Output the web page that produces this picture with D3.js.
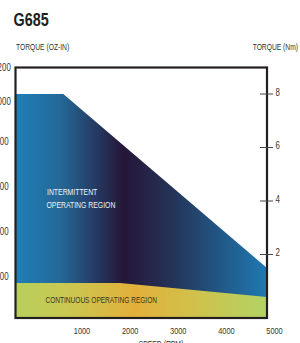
<!DOCTYPE html>
<html>
<head>
<meta charset="utf-8">
<script src="https://cdn.jsdelivr.net/npm/d3@7"></script>
<style>
  html, body { margin: 0; padding: 0; background: #ffffff; }
  svg { display: block; }
  text { font-family: "Liberation Sans", Arial, sans-serif; }
</style>
</head>
<body>
<div id="chart"></div>
<script>
// ---- data ----
const speedTicks = [1000, 2000, 3000, 4000, 5000];          // rpm
const ozTicks = [200, 400, 600, 800, 1000, 1200];          // oz-in labels (left)
const nmTicks = [2, 4, 6, 8];                               // Nm ticks (right)
const intermittentSpeed = [0, 950, 5000];                   // rpm
const intermittentTorque = [8, 8, 1.5];                     // Nm
const continuousSpeed = [0, 2080, 5000];                    // rpm
const continuousTorque = [0.93, 0.93, 0.41];                // Nm

// ---- layout ----
const W = 300, H = 343;
const box = { left: 15.5, right: 267, top: 67.5, bottom: 318 };
const NARROW = 0.8;

const svg = d3.select("#chart").append("svg").attr("width", W).attr("height", H);

// condensed text helper
function ctext(parent, x, y, str, size, opts = {}) {
  const t = parent.append("text")
    .attr("transform", `translate(${x},${y}) scale(${opts.sx || NARROW},1)`)
    .attr("font-size", size)
    .attr("fill", opts.fill || "#333")
    .attr("text-anchor", opts.anchor || "start")
    .text(str);
  if (opts.weight) t.attr("font-weight", opts.weight);
  return t;
}

// scales
const xPlot = d3.scaleLinear().domain([0, 5000]).range([box.left, box.right]);
const xLabel = d3.scaleLinear().domain([1000, 5000]).range([82, 274.5]);
const yNm = d3.scaleLinear().domain([0, 8]).range([308, 94]);
const yOz = d3.scaleLinear().domain([200, 800, 1000, 1200]).range([276, 141, 101, 67]);

// gradients
const defs = svg.append("defs");
const g1 = defs.append("linearGradient").attr("id", "gInt")
  .attr("gradientUnits", "userSpaceOnUse")
  .attr("x1", box.left).attr("x2", box.right).attr("y1", 0).attr("y2", 0);
[[0, "#1f7fb8"], [0.18, "#246898"], [0.43, "#251638"], [0.62, "#243358"], [1, "#1f7ab2"]]
  .forEach(s => g1.append("stop").attr("offset", s[0]).attr("stop-color", s[1]));
const g2 = defs.append("linearGradient").attr("id", "gCont")
  .attr("gradientUnits", "userSpaceOnUse")
  .attr("x1", box.left).attr("x2", box.right).attr("y1", 0).attr("y2", 0);
[[0, "#b8cf5c"], [0.2, "#c9c852"], [0.47, "#e2b03a"], [0.72, "#cfc24c"], [1, "#b2d364"]]
  .forEach(s => g2.append("stop").attr("offset", s[0]).attr("stop-color", s[1]));

// areas
const area = d3.area()
  .x(d => xPlot(d.s))
  .y0(box.bottom)
  .y1(d => yNm(d.t));

const intData = intermittentSpeed.map((s, i) => ({ s, t: intermittentTorque[i] }));
const contData = continuousSpeed.map((s, i) => ({ s, t: continuousTorque[i] }));

svg.append("path").datum(intData).attr("d", area).attr("fill", "url(#gInt)");
svg.append("path").datum(contData).attr("d", area).attr("fill", "url(#gCont)");

// box
svg.append("rect")
  .attr("x", box.left).attr("y", box.top)
  .attr("width", box.right - box.left).attr("height", box.bottom - box.top)
  .attr("fill", "none").attr("stroke", "#231f20").attr("stroke-width", 2.2);

// right ticks
const rt = svg.append("g");
rt.selectAll("line").data(nmTicks).join("line")
  .attr("x1", 260).attr("x2", 273)
  .attr("y1", d => yNm(d)).attr("y2", d => yNm(d))
  .attr("stroke", "#444").attr("stroke-width", 1);
nmTicks.forEach(d => ctext(rt, 275.5, yNm(d) + 1.5, d, 10.5, { sx: 0.75 }));

// left labels (centred, partly cut by the page edge as in the original)
const lg = svg.append("g");
ozTicks.forEach(d => ctext(lg, 2, yOz(d) + 3.8, d, 10, { anchor: "middle", sx: 0.79 }));

// bottom labels
const bg = svg.append("g");
speedTicks.forEach(d => ctext(bg, xLabel(d), 333.5, d, 9.5, { anchor: "middle", sx: 0.78 }));

// titles
ctext(svg, 13.5, 25.5, "G685", 18, { weight: "bold", fill: "#231f20", sx: 0.8 });
ctext(svg, 16, 49.5, "TORQUE (OZ-IN)", 8.4);
ctext(svg, 298, 50, "TORQUE (Nm)", 8.4, { anchor: "end" });
ctext(svg, 161, 346.5, "SPEED (RPM)", 8.5, { anchor: "middle" });

// region labels
ctext(svg, 47, 194.5, "INTERMITTENT", 8.6, { fill: "#eef3f8" });
ctext(svg, 46.5, 208, "OPERATING REGION", 8.6, { fill: "#eef3f8" });
ctext(svg, 45.5, 302.5, "CONTINUOUS OPERATING REGION", 8.2, { fill: "#3a3520" });
</script>
</body>
</html>
